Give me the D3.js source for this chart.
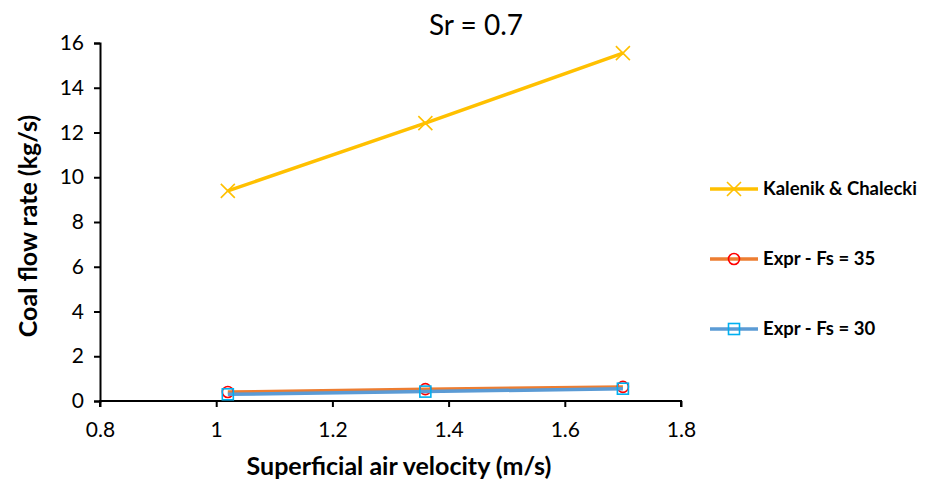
<!DOCTYPE html>
<html>
<head>
<meta charset="utf-8">
<script src="https://cdn.jsdelivr.net/npm/d3@7"></script>
<style>
  html, body { margin: 0; padding: 0; background: #fff; }
  svg text { font-family: Lato, "Open Sans", "Liberation Sans", sans-serif; fill: #000; }
</style>
</head>
<body>
<svg id="chart" width="936" height="484"></svg>
<script>
// Superficial air velocity (m/s)
const velocity = [1.02, 1.36, 1.70];
// Coal flow rate (kg/s) per series
const kalenik = [9.39, 12.42, 15.55];
const exprFs35 = [0.40, 0.53, 0.63];
const exprFs30 = [0.30, 0.42, 0.55];

const seriesNames = ["Kalenik & Chalecki", "Expr - Fs = 35", "Expr - Fs = 30"];
const xTicks = [0.8, 1.0, 1.2, 1.4, 1.6, 1.8];
const xTickLabels = ["0.8", "1", "1.2", "1.4", "1.6", "1.8"];
const yTicks = [0, 2, 4, 6, 8, 10, 12, 14, 16];

const series = [
  { name: seriesNames[0], values: kalenik,  line: "#FFC000", marker: "x",      mcolor: "#FFC000" },
  { name: seriesNames[1], values: exprFs35, line: "#ED7D31", marker: "circle", mcolor: "#FF0000" },
  { name: seriesNames[2], values: exprFs30, line: "#5B9BD5", marker: "square", mcolor: "#00B0F0" }
];

const svg = d3.select("#chart");
const plot = { left: 100, right: 681, top: 43, bottom: 401 };

const x = d3.scaleLinear().domain([0.8, 1.8]).range([plot.left, plot.right]);
const y = d3.scaleLinear().domain([0, 16]).range([plot.bottom, plot.top]);

// Axes
const xAxis = svg.append("g")
  .attr("transform", `translate(0,${plot.bottom})`)
  .call(d3.axisBottom(x).tickValues(xTicks).tickSize(6).tickPadding(15)
    .tickFormat((d, i) => xTickLabels[i]));
const yAxis = svg.append("g")
  .attr("transform", `translate(${plot.left},0)`)
  .call(d3.axisLeft(y).tickValues(yTicks).tickSize(6).tickPadding(10)
    .tickFormat(d3.format("d")));

[xAxis, yAxis].forEach(g => {
  g.select(".domain").attr("stroke", "#000").attr("stroke-width", 2);
  g.selectAll(".tick line").attr("stroke", "#000").attr("stroke-width", 2);
  g.selectAll(".tick text").attr("font-size", 21).attr("fill", "#000")
    .style("font-family", "Lato, 'Open Sans', sans-serif");
});
xAxis.select(".domain").attr("d", `M${plot.left},6V0H${plot.right}V6`);

// Marker drawing
function drawMarker(g, type, cx, cy, color) {
  if (type === "x") {
    const s = 7;
    g.append("path")
      .attr("d", `M${cx - s},${cy - s}L${cx + s},${cy + s}M${cx - s},${cy + s}L${cx + s},${cy - s}`)
      .attr("stroke", color).attr("stroke-width", 1.6).attr("fill", "none");
  } else if (type === "circle") {
    g.append("circle").attr("cx", cx).attr("cy", cy).attr("r", 5.5)
      .attr("stroke", color).attr("stroke-width", 1.6).attr("fill", "none");
  } else {
    g.append("rect").attr("x", cx - 5.5).attr("y", cy - 5.5).attr("width", 11).attr("height", 11)
      .attr("stroke", color).attr("stroke-width", 1.6).attr("fill", "none");
  }
}

const line = d3.line().x(d => x(d[0])).y(d => y(d[1]));

series.forEach(s => {
  const pts = velocity.map((v, i) => [v, s.values[i]]);
  const g = svg.append("g");
  g.append("path").datum(pts).attr("d", line)
    .attr("fill", "none").attr("stroke", s.line).attr("stroke-width", 3.5)
    .attr("stroke-linejoin", "round");
  pts.forEach(p => drawMarker(g, s.marker, x(p[0]), y(p[1]), s.mcolor));
});

// Legend
const legendY = [189, 259, 329];
series.forEach((s, i) => {
  const g = svg.append("g");
  const ly = legendY[i];
  g.append("line").attr("x1", 710).attr("x2", 758).attr("y1", ly).attr("y2", ly)
    .attr("stroke", s.line).attr("stroke-width", 3.5);
  drawMarker(g, s.marker, 734, ly, s.mcolor);
  g.append("text").attr("x", 763).attr("y", ly).attr("dy", "0.35em")
    .attr("font-size", 18.5).attr("font-weight", "bold").text(s.name);
});

// Title
svg.append("text").attr("x", 476).attr("y", 35).attr("text-anchor", "middle")
  .attr("font-size", 28).text("Sr = 0.7");

// Axis titles
svg.append("text").attr("x", 399).attr("y", 475).attr("text-anchor", "middle")
  .attr("font-size", 25).attr("font-weight", "bold").text("Superficial air velocity (m/s)");
svg.append("text").attr("transform", "translate(37,226) rotate(-90)").attr("text-anchor", "middle")
  .attr("font-size", 25).attr("font-weight", "bold").text("Coal flow rate (kg/s)");
</script>
</body>
</html>
